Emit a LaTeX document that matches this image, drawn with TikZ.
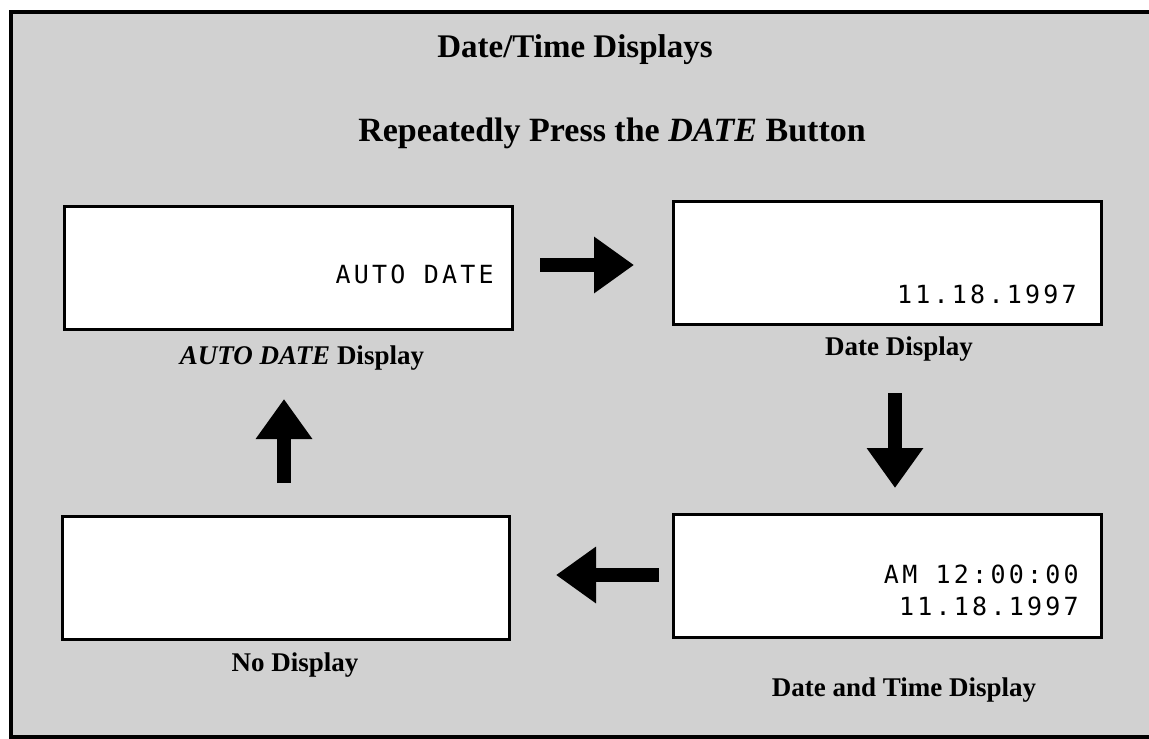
\documentclass[tikz,border=0pt]{standalone}
\usepackage{fontspec}
\setmainfont{Liberation Serif}
\newfontfamily\lcdfont[LetterSpace=13]{DejaVu Sans Mono}
\usetikzlibrary{arrows.meta}
\definecolor{bgstipple}{gray}{0.82}
\tikzset{
  x=1pt, y=-1pt,
  lcdbox/.style={draw=black, line width=3pt, fill=white, minimum height=123pt, inner sep=0pt, anchor=north west},
  lcdtext/.style={font=\fontsize{25}{32}\selectfont\lcdfont, inner sep=0pt, anchor=base east, align=right},
  caption/.style={font=\fontsize{27}{32}\selectfont\bfseries, inner sep=0pt, anchor=base},
  heading/.style={font=\fontsize{34}{38}\selectfont\bfseries, inner sep=0pt, anchor=base},
}
\tikzset{blockarrow/.style={line width=14pt, -{Triangle[length=40pt,width=54pt]}}}
\begin{document}
\begin{tikzpicture}
\useasboundingbox (0,0) rectangle (1149,739);
\begin{scope}
\clip (0,0) rectangle (1149,739);
\fill[white] (0,0) rectangle (1149,739);
\draw[line width=3.5pt, fill=bgstipple] (11,12) rectangle (1170,737);
\end{scope}

\node[heading, font=\fontsize{33}{38}\selectfont\bfseries] (title) at (575,57) {Date/Time Displays};
\node[heading] (sub) at (612,141) {Repeatedly Press the \textit{DATE} Button};

\node[lcdbox, minimum width=448pt] (b1) at (63,205) {};
\node[lcdbox, minimum width=428pt] (b2) at (672,200) {};
\node[lcdbox, minimum width=447pt] (b3) at (61,515) {};
\node[lcdbox, minimum width=428pt] (b4) at (672,513) {};

\node[lcdtext] (t1) at (494,283) {AUTO DATE};
\node[lcdtext] (t2) at (1077,303) {11.18.1997};
\node[lcdtext] (t4a) at (1079,583) {AM 12:00:00};
\node[lcdtext] (t4b) at (1079,615) {11.18.1997};

\node[caption] (c1) at (302,364) {\textit{AUTO DATE} Display};
\node[caption] (c2) at (899,355) {Date Display};
\node[caption] (c3) at (295,671) {No Display};
\node[caption] (c4) at (904,696) {Date and Time Display};

\coordinate (a1s) at (540,265);
\coordinate (a1e) at (634,265);
\coordinate (a2s) at (895,393);
\coordinate (a2e) at (895,488);
\coordinate (a3s) at (659,575);
\coordinate (a3e) at (556,575);
\coordinate (a4s) at (284,483);
\coordinate (a4e) at (284,399);
\draw[blockarrow] (a1s) -- (a1e);
\draw[blockarrow] (a2s) -- (a2e);
\draw[blockarrow] (a3s) -- (a3e);
\draw[blockarrow] (a4s) -- (a4e);
\end{tikzpicture}
\end{document}
